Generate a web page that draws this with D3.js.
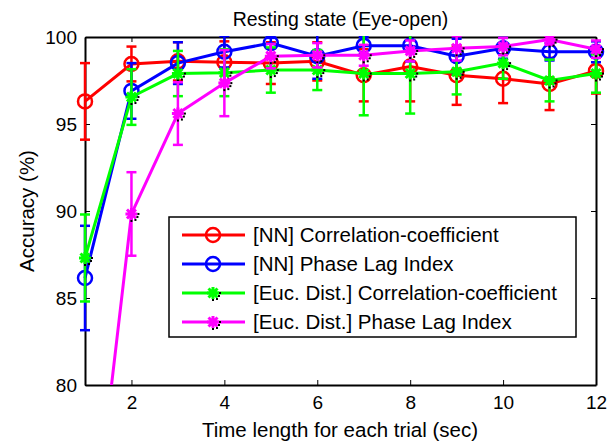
<!DOCTYPE html>
<html>
<head>
<meta charset="utf-8">
<script src="https://cdn.jsdelivr.net/npm/d3@7"></script>
<style>
  body { margin: 0; background: #fff; }
  text { font-family: "Liberation Sans", Arial, sans-serif; fill: #000; }
</style>
</head>
<body>
<script>
"use strict";

// time length (sec)
const times = [1, 2, 3, 4, 5, 6, 7, 8, 9, 10, 11, 12];

// accuracy (%) and error half-widths
const nnCorr    = [96.3, 98.45, 98.6, 98.55, 98.5, 98.6, 97.8, 98.3, 97.8, 97.6, 97.3, 98.05];
const nnCorrErr = [2.2, 1.0, 1.1, 1.2, 1.2, 1.1, 1.5, 2.0, 1.7, 1.4, 1.5, 1.3];
const nnPli     = [86.15, 96.9, 98.5, 99.15, 99.65, 98.9, 99.5, 99.5, 98.9, 99.35, 99.15, 99.15];
const nnPliErr  = [3.0, 1.6, 1.2, 0.9, 0.3, 1.3, 0.5, 0.9, 1.0, 0.6, 0.5, 0.6];
const euCorr    = [87.3, 96.55, 97.9, 97.95, 98.1, 98.1, 97.9, 97.9, 98.0, 98.5, 97.5, 97.9];
const euCorrErr = [2.5, 1.6, 1.3, 1.35, 1.3, 1.15, 2.4, 2.3, 1.3, 0.9, 1.2, 1.1];
const euPli     = [66.9, 89.83, 95.6, 97.35, 98.9, 98.95, 98.95, 99.2, 99.35, 99.45, 99.85, 99.3];
const euPliErr  = [2.5, 2.4, 1.8, 1.9, 0.7, 0.7, 0.6, 0.6, 0.7, 0.5, 0.3, 0.5];

const seriesNames = [
  "[NN] Correlation-coefficient",
  "[NN] Phase Lag Index",
  "[Euc. Dist.] Correlation-coefficient",
  "[Euc. Dist.] Phase Lag Index"
];
const xTicks = [2, 4, 6, 8, 10, 12];
const yTicks = [80, 85, 90, 95, 100];

const series = [
  { name: seriesNames[0], vals: nnCorr, err: nnCorrErr, color: "#ff0000", marker: "circle" },
  { name: seriesNames[1], vals: nnPli,  err: nnPliErr,  color: "#0000ff", marker: "circle" },
  { name: seriesNames[2], vals: euCorr, err: euCorrErr, color: "#00ff00", marker: "star" },
  { name: seriesNames[3], vals: euPli,  err: euPliErr,  color: "#ff00ff", marker: "star" }
];

var width = 610, height = 442;
var margin = { left: 85, right: 14, top: 37, bottom: 57 };

var x = d3.scaleLinear().domain([1, 12]).range([margin.left, width - margin.right]);
var y = d3.scaleLinear().domain([80, 100]).range([height - margin.bottom, margin.top]);

var svg = d3.select("body").append("svg")
    .attr("width", width)
    .attr("height", height);

// clip only vertically: markers at x=1 and x=12 spill over the box like in matlab
svg.append("defs").append("clipPath").attr("id", "plotclip")
  .append("rect")
    .attr("x", 0).attr("y", margin.top - 1)
    .attr("width", width).attr("height", y(80) - y(100) + 1);

// axes, ticks pointing inward (matlab style)
var tickLen = 5;
var axB = svg.append("g").attr("transform", "translate(0," + y(80) + ")")
    .call(d3.axisBottom(x).tickValues(xTicks).tickSizeInner(-tickLen).tickSizeOuter(0).tickPadding(11));
var axL = svg.append("g").attr("transform", "translate(" + x(1) + ",0)")
    .call(d3.axisLeft(y).tickValues(yTicks).tickSizeInner(-tickLen).tickSizeOuter(0).tickPadding(8));
var axT = svg.append("g").attr("transform", "translate(0," + y(100) + ")")
    .call(d3.axisTop(x).tickValues(xTicks).tickSizeInner(-tickLen).tickSizeOuter(0).tickFormat(""));
var axR = svg.append("g").attr("transform", "translate(" + x(12) + ",0)")
    .call(d3.axisRight(y).tickValues(yTicks).tickSizeInner(-tickLen).tickSizeOuter(0).tickFormat(""));

[axB, axL, axT, axR].forEach(function(g) {
  g.select(".domain").attr("stroke", "#000").attr("stroke-width", 2);
  g.selectAll(".tick line").attr("stroke", "#000").attr("stroke-width", 1);
  g.selectAll(".tick text").style("font-size", "19px").style("font-family", "Liberation Sans, Arial, sans-serif").attr("fill", "#000");
});

var plot = svg.append("g").attr("clip-path", "url(#plotclip)");

var line = d3.line()
    .x(function(d, i) { return x(times[i]); })
    .y(function(d) { return y(d); });

function drawMarker(g, type, color, cx, cy) {
  if (type === "circle") {
    g.append("circle").attr("cx", cx).attr("cy", cy).attr("r", 7)
      .attr("fill", "none").attr("stroke", color).attr("stroke-width", 2.5);
  } else {
    var r = 6;
    var star = "M" + (cx - r) + "," + cy + "H" + (cx + r) +
      "M" + cx + "," + (cy - r) + "V" + (cy + r) +
      "M" + (cx - 4.5) + "," + (cy - 4.5) + "L" + (cx + 4.5) + "," + (cy + 4.5) +
      "M" + (cx - 4.5) + "," + (cy + 4.5) + "L" + (cx + 4.5) + "," + (cy - 4.5);
    g.append("path").attr("d", star).attr("stroke", color).attr("stroke-width", 3).attr("fill", "none");
    // little black dots that the original marker leaves around
    [[5, 2], [3, 5], [-1, 6], [6, -1]].forEach(function(o) {
      g.append("rect").attr("x", cx + o[0]).attr("y", cy + o[1]).attr("width", 2).attr("height", 2).attr("fill", "#000");
    });
  }
}

series.forEach(function(s) {
  var g = plot.append("g");
  // error bars
  s.vals.forEach(function(v, i) {
    var cx = x(times[i]);
    var y0 = y(v - s.err[i]), y1 = y(v + s.err[i]);
    g.append("line").attr("x1", cx).attr("x2", cx).attr("y1", y0).attr("y2", y1)
      .attr("stroke", s.color).attr("stroke-width", 2.5);
    [y0, y1].forEach(function(yy) {
      g.append("line").attr("x1", cx - 5).attr("x2", cx + 5).attr("y1", yy).attr("y2", yy)
        .attr("stroke", s.color).attr("stroke-width", 2.5);
    });
  });
  g.append("path").datum(s.vals)
    .attr("d", line)
    .attr("fill", "none")
    .attr("stroke", s.color)
    .attr("stroke-width", 3);
  s.vals.forEach(function(v, i) {
    drawMarker(g, s.marker, s.color, x(times[i]), y(v));
  });
});

// legend
var lg = svg.append("g");
lg.append("rect").attr("x", 169).attr("y", 217).attr("width", 407).attr("height", 120)
  .attr("fill", "#fff").attr("stroke", "#000").attr("stroke-width", 1.5);
series.forEach(function(s, i) {
  var ly = 235 + i * 29;
  lg.append("line").attr("x1", 182).attr("x2", 245).attr("y1", ly).attr("y2", ly)
    .attr("stroke", s.color).attr("stroke-width", 3);
  drawMarker(lg, s.marker, s.color, 213, ly);
  lg.append("text").attr("x", 253).attr("y", ly).attr("dy", "0.35em")
    .style("font-size", "20.5px").text(s.name);
});

// titles
svg.append("text").attr("x", (x(1) + x(12)) / 2).attr("y", 26)
  .attr("text-anchor", "middle").style("font-size", "19.5px").text("Resting state (Eye-open)");
svg.append("text").attr("x", 340).attr("y", 437)
  .attr("text-anchor", "middle").style("font-size", "20.5px").text("Time length for each trial (sec)");
svg.append("text")
  .attr("transform", "translate(34," + ((y(80) + y(100)) / 2) + ") rotate(-90)")
  .attr("text-anchor", "middle").style("font-size", "20.5px").text("Accuracy (%)");
</script>
</body>
</html>
